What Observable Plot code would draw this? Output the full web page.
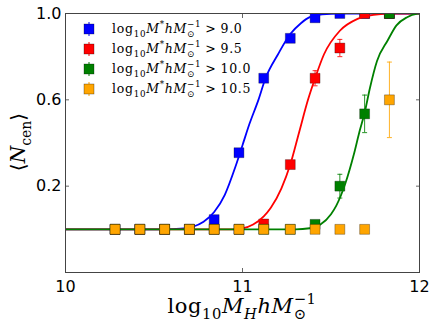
<!DOCTYPE html>
<html><head><meta charset="utf-8">
<script src="https://cdn.jsdelivr.net/npm/d3@7"></script>
<script src="https://cdn.jsdelivr.net/npm/@observablehq/plot@0.6"></script>
<style>body{margin:0;background:#fff}svg{display:block}</style>
</head><body><div id="chart"></div>
<script>
// ---- data ----
const xTicks = [10, 11, 12];
const yTicks = [0.2, 0.6, 1.0];
const binCenters = [10.28, 10.42, 10.56, 10.70, 10.84, 10.98, 11.12, 11.27, 11.41, 11.55, 11.69, 11.83];

const nBlue   = [0, 0, 0, 0, 0.045, 0.355, 0.70, 0.885, 0.98, 1.0, 1.0, 1.0];
const eBlue   = [0, 0, 0, 0, 0, 0, 0, 0, 0, 0, 0, 0];
const nRed    = [0, 0, 0, 0, 0, 0, 0.025, 0.30, 0.70, 0.84, 1.0, 1.0];
const eRed    = [0, 0, 0, 0, 0, 0, 0, 0, 0.035, 0.04, 0, 0];
const nGreen  = [0, 0, 0, 0, 0, 0, 0, 0, 0.023, 0.20, 0.535, 1.0];
const eGreen  = [0, 0, 0, 0, 0, 0, 0, 0, 0, 0.055, 0.087, 0];
const nOrange = [0, 0, 0, 0, 0, 0, 0, 0, 0, 0, 0, 0.60];
const eOrange = [0, 0, 0, 0, 0, 0, 0, 0, 0, 0, 0, 0.175];

const fitBlueX  = [10.00, 10.55, 10.65, 10.72, 10.78, 10.84, 10.90, 10.96, 11.00, 11.04, 11.09, 11.13, 11.20, 11.27, 11.33, 11.38, 11.45, 11.55, 12.00];
const fitBlueY  = [0, 0, 0.003, 0.012, 0.035, 0.08, 0.16, 0.29, 0.39, 0.49, 0.60, 0.70, 0.81, 0.905, 0.955, 0.983, 0.996, 1.0, 1.0];
const fitRedX   = [10.00, 10.95, 11.00, 11.06, 11.12, 11.16, 11.22, 11.27, 11.32, 11.37, 11.41, 11.46, 11.55, 11.65, 11.74, 11.85, 12.00];
const fitRedY   = [0, 0, 0.004, 0.022, 0.06, 0.10, 0.19, 0.30, 0.45, 0.60, 0.70, 0.81, 0.92, 0.975, 0.994, 1.0, 1.0];
const fitGreenX = [10.00, 11.30, 11.38, 11.44, 11.50, 11.53, 11.58, 11.63, 11.66, 11.69, 11.72, 11.76, 11.82, 11.87, 11.93, 11.99, 12.00];
const fitGreenY = [0, 0, 0.005, 0.022, 0.07, 0.11, 0.21, 0.35, 0.45, 0.54, 0.655, 0.78, 0.875, 0.945, 0.983, 0.999, 1.0];

const thresholds = ["9.0", "9.5", "10.0", "10.5"];
const colors = ["#0000ff", "#ff0000", "#008000", "#ffa500"];

// ---- build tables ----
const pts = (ys, es) => binCenters.map((x, i) => ({x, y: ys[i], e: es[i]}));
const fit = (xs, ys) => xs.map((x, i) => ({x, y: ys[i]}));
const series = [
  {pts: pts(nBlue, eBlue), fit: fit(fitBlueX, fitBlueY), color: colors[0]},
  {pts: pts(nRed, eRed), fit: fit(fitRedX, fitRedY), color: colors[1]},
  {pts: pts(nGreen, eGreen), fit: fit(fitGreenX, fitGreenY), color: colors[2]},
  {pts: pts(nOrange, eOrange), fit: null, color: colors[3]}
];

const capSymbol = {draw(ctx, size) { const w = Math.sqrt(size) / 2; ctx.moveTo(-w, 0); ctx.lineTo(w, 0); }};

const marks = [];
for (const s of series) {
  const errs = s.pts.filter(d => d.e > 0);
  marks.push(Plot.ruleX(errs, {x: "x", y1: d => d.y - d.e, y2: d => d.y + d.e, stroke: s.color, strokeWidth: 1, strokeOpacity: 0.85}));
  marks.push(Plot.dot(errs, {x: "x", y: d => d.y + d.e, symbol: capSymbol, r: 2.8, stroke: s.color, strokeWidth: 1, strokeOpacity: 0.85}));
  marks.push(Plot.dot(errs, {x: "x", y: d => d.y - d.e, symbol: capSymbol, r: 2.8, stroke: s.color, strokeWidth: 1, strokeOpacity: 0.85}));
  marks.push(Plot.dot(s.pts, {x: "x", y: "y", symbol: "square", r: 5.6, fill: s.color, stroke: "black", strokeWidth: 0.5, strokeOpacity: 0.6, clip: true}));
  if (s.fit) marks.push(Plot.line(s.fit, {x: "x", y: "y", stroke: s.color, strokeWidth: 1.8, curve: "monotone-x", clip: true}));
}

const plot = Plot.plot({
  width: 436, height: 327,
  marginLeft: 65, marginRight: 17, marginTop: 13, marginBottom: 55,
  style: {fontFamily: "DejaVu Sans", fontSize: "16px", background: "white", color: "black", overflow: "visible"},
  x: {domain: [10, 12]},
  y: {domain: [-0.2, 1.0]},
  marks: [
    Plot.axisX({ticks: xTicks, tickSize: 0, tickPadding: 8, label: null, tickFormat: d => String(d)}),
    Plot.axisX({ticks: xTicks, anchor: "bottom", tickSize: 4, dy: -4, tickFormat: () => "", label: null, stroke: "#666"}),
    Plot.axisX({ticks: xTicks, anchor: "top", tickSize: 4, dy: 4, tickFormat: () => "", label: null, stroke: "#666"}),
    Plot.axisY({ticks: yTicks, tickSize: 0, tickPadding: 4, label: null, tickFormat: d3.format(".1f")}),
    Plot.axisY({ticks: yTicks, anchor: "left", tickSize: 4, dx: 4, tickFormat: () => "", label: null, stroke: "#666"}),
    Plot.axisY({ticks: yTicks, anchor: "right", tickSize: 4, dx: -4, tickFormat: () => "", label: null, stroke: "#666"}),
    ...marks,
    Plot.frame({stroke: "#444", strokeWidth: 1})
  ]
});
document.getElementById("chart").append(plot);
const svg = d3.select(plot);

function addMath(parent, parts, {x, y, size, anchor = "start", transform = null, family = "DejaVu Serif", spacing = 0}) {
  const t = parent.append("text").attr("x", x).attr("y", y)
    .attr("font-family", family).attr("font-size", size)
    .attr("letter-spacing", spacing)
    .attr("text-anchor", anchor).attr("fill", "black").attr("stroke", "none");
  if (transform) t.attr("transform", transform);
  let cur = 0, prev = null;
  for (const p of parts) {
    const shift = p.sub ? 0.3 * size : p.sup ? -0.45 * size : 0;
    const fs = (p.sub || p.sup) ? 0.7 * size : size;
    const ts = t.append("tspan").attr("font-size", fs).attr("dy", shift - cur).text(p.t);
    if (p.it) ts.attr("font-style", "italic");
    if (p.gap) ts.attr("dx", p.gap);
    if (p.back && prev) ts.attr("dx", -prev.node().getComputedTextLength());
    cur = shift; prev = ts;
  }
  return t;
}

// legend
const legendRows = [29, 49, 69, 89];
const lg = svg.append("g");
thresholds.forEach((th, i) => {
  const yy = legendRows[i];
  lg.append("line").attr("x1", 89).attr("x2", 89).attr("y1", yy - 7).attr("y2", yy + 7).attr("stroke", colors[i]).attr("stroke-width", 1);
  lg.append("rect").attr("x", 84).attr("y", yy - 5).attr("width", 10).attr("height", 10)
    .attr("fill", colors[i]).attr("stroke", "black").attr("stroke-width", 0.5).attr("stroke-opacity", 0.6);
  addMath(lg, [
    {t: "log"}, {t: "10", sub: true}, {t: "M", it: true}, {t: "*", sup: true},
    {t: "h", it: true}, {t: "M", it: true}, {t: "⊙", sub: true}, {t: "−1", sup: true, back: true},
    {t: ">", gap: 4}, {t: th, gap: 4}
  ], {x: 112, y: yy + 4, size: 12.5, spacing: 0.7});
});

// axis labels
addMath(svg, [{t: "log"}, {t: "10", sub: true}, {t: "M", it: true}, {t: "H", it: true, sub: true},
  {t: "h", it: true}, {t: "M", it: true}, {t: "⊙", sub: true}, {t: "−1", sup: true, back: true}],
  {x: 242, y: 313, size: 21, anchor: "middle", spacing: 0.6});
addMath(svg, [{t: "⟨"}, {t: "N", it: true}, {t: "cen", sub: true}, {t: "⟩"}],
  {x: 0, y: 0, size: 20, anchor: "middle", transform: "translate(25,142) rotate(-90)"});
</script></body></html>
